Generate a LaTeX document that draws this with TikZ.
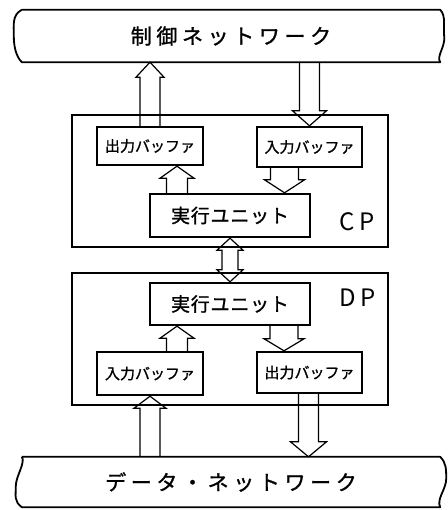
\documentclass[tikz,border=0pt]{standalone}
\usepackage{fontspec}
\newfontfamily\jp[FakeBold=1.2]{Noto Sans CJK JP}
\newfontfamily\jpbuf[FakeBold=1.2, LetterSpace=4]{Noto Sans CJK JP}
\newfontfamily\jpnet[FakeBold=1.2, LetterSpace=22]{Noto Sans CJK JP}
\newfontfamily\jplab[LetterSpace=18]{Noto Sans CJK JP}
\usetikzlibrary{calc}
\tikzset{
  boxline/.style={draw, line width=2.4pt, inner sep=0pt},
  bufbox/.style={boxline, font=\jp\fontsize{15}{15}\selectfont},
  execbox/.style={boxline, minimum width=160pt, font=\jpbuf\fontsize{19}{19}\selectfont},
  procbox/.style={boxline, minimum width=316pt, minimum height=132pt},
  bandnode/.style={inner sep=0pt, minimum width=418pt, font=\jpnet\fontsize{21}{21}\selectfont},
  bandline/.style={line width=1.8pt, line join=round},
  arrline/.style={line width=1.2pt, line join=miter},
  labnode/.style={inner sep=0pt, font=\jplab\fontsize{24}{24}\selectfont}
}
% hollow single arrow: shaft half width, head half width, head length, from, to
\newcommand{\hollowarr}[5]{%
  \path ($(#5)!#3!(#4)$) coordinate (hb);
  \draw[arrline] ($(#4)!#1!90:(#5)$) -- ($(hb)!#1!-90:(#4)$) -- ($(hb)!#2!-90:(#4)$)
    -- (#5) -- ($(hb)!#2!90:(#4)$) -- ($(hb)!#1!90:(#4)$) -- ($(#4)!#1!-90:(#5)$);
}
% hollow double arrow
\newcommand{\hollowdbl}[5]{%
  \path ($(#5)!#3!(#4)$) coordinate (hb) ($(#4)!#3!(#5)$) coordinate (ha);
  \draw[arrline] (#4) -- ($(ha)!#2!90:(#5)$) -- ($(ha)!#1!90:(#5)$) -- ($(hb)!#1!-90:(#4)$)
    -- ($(hb)!#2!-90:(#4)$) -- (#5) -- ($(hb)!#2!90:(#4)$) -- ($(hb)!#1!90:(#4)$)
    -- ($(ha)!#1!-90:(#5)$) -- ($(ha)!#2!-90:(#5)$) -- cycle;
}
\begin{document}
\begin{tikzpicture}[x=1pt,y=-1pt]
\useasboundingbox (0,0) rectangle (447,510);
% bands
\node[bandnode, minimum height=52pt] (ctrl) at (231,36) {制御ネットワーク};
\node[bandnode, minimum height=50pt] (data) at (231,482) {データ・ネットワーク};
\draw[bandline] (ctrl.north west) -- (ctrl.north east)
  .. controls +(6,6) and +(-1,-10) .. ($(ctrl.east)+(4,1)$)
  .. controls +(1,10) and +(-4,-6) .. (ctrl.south east)
  -- (ctrl.south west)
  .. controls +(-6,-6) and +(0,10) .. ($(ctrl.west)+(-8,0)$)
  .. controls +(0,-10) and +(-10,5) .. (ctrl.north west);
\draw[bandline] (data.north west) -- (data.north east)
  .. controls +(6,6) and +(0,-10) .. ($(data.east)+(6,-3)$)
  .. controls +(0,10) and +(-4,-8) .. (data.south east)
  -- (data.south west)
  .. controls +(-8,-6) and +(0,10) .. ($(data.west)+(-6,4)$)
  .. controls +(0,-10) and +(4,6) .. (data.north west);
% CP
\node[procbox] (cp) at (230,181) {};
\node[bufbox, minimum width=106pt, minimum height=38pt] (cpout) at (150,146) {出力バッファ};
\node[bufbox, minimum width=105pt, minimum height=40pt] (cpin) at (309.5,147) {入力バッファ};
\node[execbox, minimum height=43pt] (cpexec) at (230,215.5) {実行ユニット};
\node[labnode] (cplab) at (357,222) {CP};
% DP
\node[procbox] (dp) at (230,339) {};
\node[execbox, minimum height=42pt] (dpexec) at (230,304) {実行ユニット};
\node[bufbox, minimum width=106pt, minimum height=43pt] (dpin) at (150,373.5) {入力バッファ};
\node[bufbox, minimum width=105pt, minimum height=41pt] (dpout) at (309.5,372.5) {出力バッファ};
\node[labnode] (dplab) at (358,298) {DP};
% connector coordinates
\coordinate (a1e) at (cpout.north |- ctrl.south);
\coordinate (a2s) at (cpin.north |- ctrl.south);
\coordinate (a3s) at ($(cpin.south)+(-25,0)$);
\coordinate (a3e) at (a3s |- cpexec.north);
\coordinate (a4s) at ($(cpexec.north)+(-53,0)$);
\coordinate (a4e) at (a4s |- cpout.south);
\coordinate (a6s) at ($(dpin.north)+(27,0)$);
\coordinate (a6e) at (a6s |- dpexec.south);
\coordinate (a7s) at ($(dpexec.south)+(54,0)$);
\coordinate (a7e) at (a7s |- dpout.north);
\coordinate (a8s) at (dpin.south |- data.north);
\coordinate (a9s) at ($(dpout.south)+(-1,0)$);
\coordinate (a9e) at (a9s |- data.north);
% arrows
\hollowarr{10pt}{14pt}{15pt}{cpout.north}{a1e}
\hollowarr{10pt}{17pt}{15pt}{a2s}{cpin.north}
\hollowarr{14pt}{20pt}{13pt}{a3s}{a3e}
\hollowarr{10.5pt}{17pt}{12pt}{a4s}{a4e}
\hollowdbl{8pt}{13pt}{12pt}{cpexec.south}{dpexec.north}
\hollowarr{10.5pt}{17pt}{12pt}{a6s}{a6e}
\hollowarr{14pt}{20pt}{12pt}{a7s}{a7e}
\hollowarr{10pt}{16pt}{12pt}{a8s}{dpin.south}
\hollowarr{10pt}{18pt}{15pt}{a9s}{a9e}
\end{tikzpicture}
\end{document}
